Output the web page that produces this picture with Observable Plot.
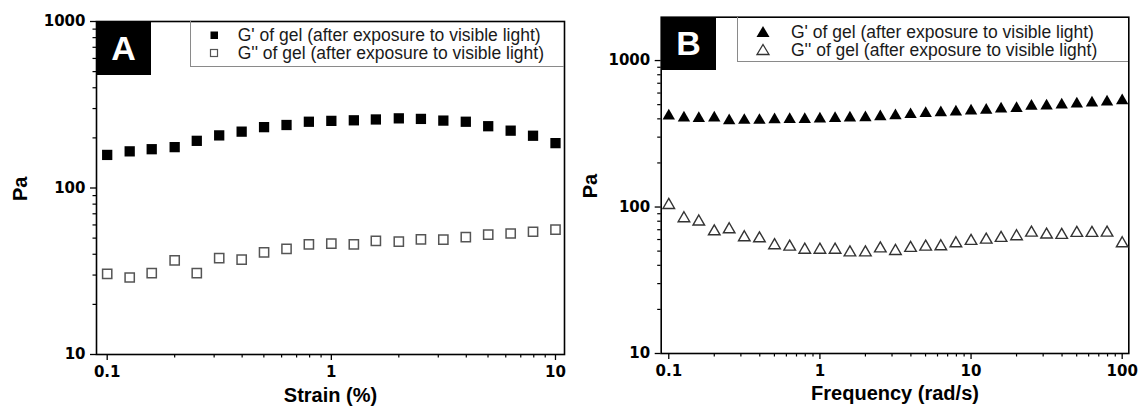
<!DOCTYPE html>
<html>
<head>
<meta charset="utf-8">
<script src="https://cdn.jsdelivr.net/npm/d3@7"></script>
<script src="https://cdn.jsdelivr.net/npm/@observablehq/plot@0.6"></script>
<style>
  body { margin: 0; background: #fff; }
  #wrap { position: relative; width: 1138px; height: 414px; overflow: hidden; background: #fff; }
  .panel { position: absolute; top: 0; }
  .legend { position: absolute; border-left: 1px solid #8a8a8a; border-bottom: 1px solid #8a8a8a; box-sizing: border-box;
            font-family: "Liberation Sans", Arial, sans-serif; font-size: 17.5px; color: #1a1a1a; }
  .row { position: absolute; white-space: nowrap; height: 18px; line-height: 18px; }
  .mk { position: absolute; }
  .tag { position: absolute; background: #000; color: #fff; font-family: "Liberation Sans", Arial, sans-serif;
         font-weight: bold; font-size: 34px; display: flex; align-items: center; justify-content: center; }
</style>
</head>
<body>
<div id="wrap">
  <div class="panel" id="pA" style="left:0px;"></div>
  <div class="panel" id="pB" style="left:570px;"></div>

  <div class="tag" style="left:96px;top:21px;width:55px;height:54px;">A</div>
  <div class="tag" style="left:661px;top:17px;width:55px;height:53px;">B</div>

  <div class="legend" id="legA" style="left:190px;top:21px;width:374px;height:46px;"></div>
  <div class="legend" id="legB" style="left:737px;top:17px;width:391px;height:45px;"></div>
</div>
<script>
// ---------- Panel A: strain sweep ----------
const strainA = [0.1, 0.126, 0.158, 0.2, 0.251, 0.316, 0.398, 0.501, 0.631, 0.794, 1, 1.26, 1.58, 2, 2.51, 3.16, 3.98, 5.01, 6.31, 7.94, 10];
const gPrimeA = [158, 166, 171, 176, 192, 207, 218, 232, 239, 250, 253, 255, 258, 262, 260, 254, 250, 235, 221, 206, 186];
const gDoubleA = [30.5, 29.0, 30.8, 36.8, 30.8, 37.9, 37.1, 41.0, 43.1, 45.9, 46.4, 45.9, 48.2, 47.7, 49.1, 48.9, 50.7, 52.4, 53.3, 54.6, 56.3];

// ---------- Panel B: frequency sweep ----------
const freqB = [0.1, 0.126, 0.158, 0.2, 0.251, 0.316, 0.398, 0.501, 0.631, 0.794, 1, 1.26, 1.58, 2, 2.51, 3.16, 3.98, 5.01, 6.31, 7.94, 10, 12.6, 15.8, 20, 25.1, 31.6, 39.8, 50.1, 63.1, 79.4, 100];
const gPrimeB = [419, 406, 402, 406, 389, 391, 391, 395, 397, 397, 399, 402, 406, 408, 414, 421, 428, 435, 441, 446, 453, 458, 467, 472, 488, 490, 498, 506, 514, 522, 533];
const gDoubleB = [103, 83.6, 79.4, 68.1, 70.3, 62.0, 61.0, 54.7, 53.5, 51.0, 51.0, 51.0, 48.9, 48.9, 52.1, 50.0, 52.5, 53.5, 53.8, 56.4, 58.6, 59.8, 61.4, 63.0, 66.7, 64.7, 64.4, 66.4, 66.4, 66.7, 56.4];

// ---------- Axis ticks & labels ----------
const majorXA = [0.1, 1, 10];
const majorXB = [0.1, 1, 10, 100];
const majorY = [10, 100, 1000];
const minorMult = [2, 3, 4, 5, 6, 7, 8, 9];
const minorXA = [0.1, 1].flatMap(d => minorMult.map(m => +(m * d).toPrecision(3)));
const minorXB = [0.1, 1, 10].flatMap(d => minorMult.map(m => +(m * d).toPrecision(3)));
const minorY = [10, 100].flatMap(d => minorMult.map(m => m * d));

const xLabelA = "Strain (%)";
const xLabelB = "Frequency (rad/s)";
const yLabel = "Pa";
const legendLabels = ["G' of gel (after exposure to visible light)", "G'' of gel (after exposure to visible light)"];

const dataA = strainA.map((x, i) => ({x, gp: gPrimeA[i], gpp: gDoubleA[i]}));
const dataB = freqB.map((x, i) => ({x, gp: gPrimeB[i], gpp: gDoubleB[i]}));

const tickStyle = {fontFamily: "DejaVu Sans", fontSize: 15, fontWeight: "bold"};
const labelStyle = {fontFamily: "Liberation Sans", fontSize: 20, fontWeight: "bold"};

function axes(majorX, minorX) {
  return [
    Plot.axisX(minorX, {tickSize: 3.5, tickFormat: () => "", label: null, strokeWidth: 1.2}),
    Plot.axisX(majorX, {tickSize: 6, tickPadding: 6, tickFormat: d => String(d), label: null, strokeWidth: 1.3, ...tickStyle}),
    Plot.axisY(minorY, {tickSize: 3.5, tickFormat: () => "", label: null, strokeWidth: 1.2}),
    Plot.axisY(majorY, {tickSize: 6, tickPadding: 5, tickFormat: d => String(d), label: null, strokeWidth: 1.3, ...tickStyle}),
    Plot.frame({stroke: "#000", strokeWidth: 1.6})
  ];
}

const chartA = Plot.plot({
  width: 570, height: 414,
  marginLeft: 96, marginRight: 6, marginTop: 21, marginBottom: 60,
  x: {type: "log", domain: [0.0896, 10.97]},
  y: {type: "log", domain: [10, 1000]},
  style: {background: "transparent", color: "#000", overflow: "visible"},
  marks: [
    ...axes(majorXA, minorXA),
    Plot.dot(dataA, {x: "x", y: "gp", symbol: "square", r: 5.8, fill: "#000"}),
    Plot.dot(dataA, {x: "x", y: "gpp", symbol: "square", r: 5.2, fill: "#fff", stroke: "#555", strokeWidth: 1.5}),
    Plot.text([xLabelA], {text: d => d, frameAnchor: "bottom", dy: 47, ...labelStyle}),
    Plot.text([yLabel], {text: d => d, frameAnchor: "left", dx: -76, dy: 13, rotate: -90, ...labelStyle})
  ]
});
document.getElementById("pA").appendChild(chartA);

const chartB = Plot.plot({
  width: 568, height: 414,
  marginLeft: 90.7, marginRight: 9.7, marginTop: 16.7, marginBottom: 61,
  x: {type: "log", domain: [0.0891, 110.6]},
  y: {type: "log", domain: [10, 1977]},
  style: {background: "transparent", color: "#000", overflow: "visible"},
  marks: [
    ...axes(majorXB, minorXB),
    Plot.dot(dataB, {x: "x", y: "gp", symbol: "triangle", r: 4.6, fill: "#000"}),
    Plot.dot(dataB, {x: "x", y: "gpp", symbol: "triangle", r: 4.3, fill: "#fff", stroke: "#333", strokeWidth: 1.4}),
    Plot.text([xLabelB], {text: d => d, frameAnchor: "bottom", dy: 46, ...labelStyle}),
    Plot.text([yLabel], {text: d => d, frameAnchor: "left", dx: -70.7, dy: 13, rotate: -90, ...labelStyle})
  ]
});
document.getElementById("pB").appendChild(chartB);

// ---------- Legends ----------
function marker(shape, filled) {
  const s = 16;
  let inner;
  if (shape === "square") {
    inner = filled
      ? `<rect x="4.5" y="4.5" width="7.5" height="7.5" fill="#000"/>`
      : `<rect x="4.5" y="4.5" width="7" height="7" fill="#fff" stroke="#555" stroke-width="1.2"/>`;
  } else {
    inner = filled
      ? `<path d="M8,2 L14.5,13 L1.5,13 Z" fill="#000"/>`
      : `<path d="M8,2.5 L14,12.5 L2,12.5 Z" fill="#fff" stroke="#333" stroke-width="1.3"/>`;
  }
  return `<svg width="${s}" height="${s}" viewBox="0 0 ${s} ${s}">${inner}</svg>`;
}
function buildLegend(id, shape, rows, mx, tx) {
  const el = document.getElementById(id);
  rows.forEach((cy, i) => {
    const m = document.createElement("div");
    m.className = "mk";
    m.style.left = (mx - 8) + "px";
    m.style.top = (cy - 8) + "px";
    m.innerHTML = marker(shape, i === 0);
    el.appendChild(m);
    const t = document.createElement("div");
    t.className = "row";
    t.style.left = tx + "px";
    t.style.top = (cy - 9) + "px";
    t.textContent = legendLabels[i];
    el.appendChild(t);
  });
}
buildLegend("legA", "square", [14, 32.3], 23, 46.7);
buildLegend("legB", "triangle", [14.7, 33], 24.7, 53);
</script>
</body>
</html>
